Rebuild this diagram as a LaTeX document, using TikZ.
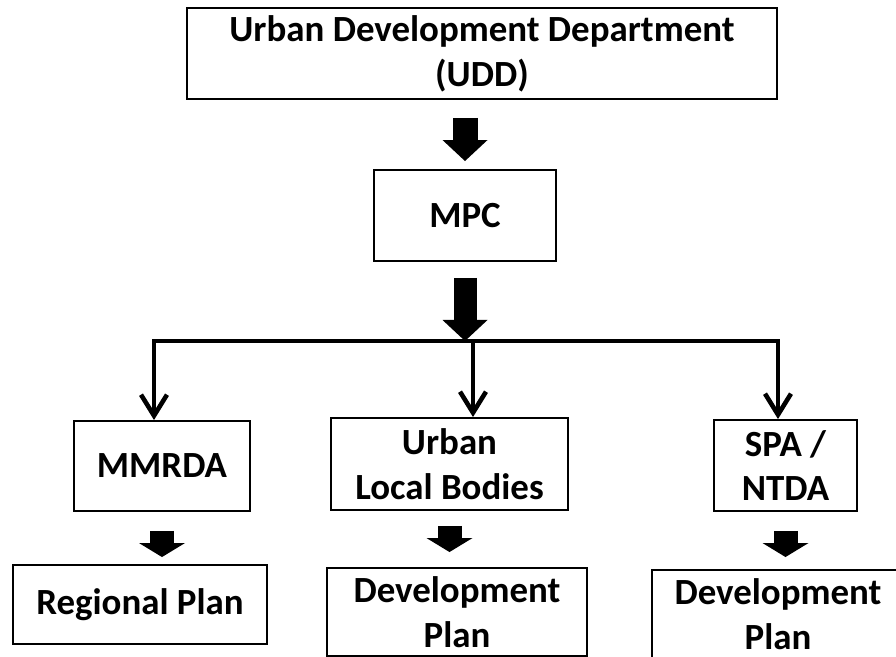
\documentclass[tikz,border=0pt]{standalone}
\usepackage{fontspec}
\setmainfont{Carlito}
\usetikzlibrary{arrows.meta}

\begin{document}
\begin{tikzpicture}[
    box/.style={draw, line width=1.1pt, minimum height=1.82cm, align=center, inner sep=2pt, font=\fontsize{21}{25.5}\selectfont\bfseries},
    fatarrow/.style={line width=0.5cm, -{Triangle[width=0.9cm, length=0.42cm, line width=0pt]}},
    smallfat/.style={line width=0.48cm, -{Triangle[width=0.92cm, length=0.28cm, line width=0pt]}},
    arrow/.style={line width=2.6pt, line join=miter, -{Straight Barb[length=0.42cm, width=0.52cm]}}
]
    \useasboundingbox (0,0) rectangle (17.92,-13.14);

    % Department and committee
    \node[box, minimum width=11.8cm] (udd) at (9.64,-1.07) {Urban Development Department\\(UDD)};
    \node[box, minimum width=3.64cm] (mpc) at (9.30,-4.31) {MPC};

    % Planning authorities
    \node[box, minimum width=3.52cm, minimum height=1.80cm] (mmrda) at (3.24,-9.32) {MMRDA};
    \node[box, minimum width=4.74cm, minimum height=1.84cm] (ulb) at (8.99,-9.28) {Urban\\Local Bodies};
    \node[box, minimum width=2.86cm] (spa) at (15.71,-9.31) {SPA /\\NTDA};

    % Plans
    \node[box, minimum width=5.08cm, minimum height=1.58cm] (rp) at (2.80,-12.09) {Regional Plan};
    \node[box, minimum width=5.2cm, minimum height=1.76cm] (dpm) at (9.14,-12.24) {Development\\Plan};
    \node[box, minimum width=5.04cm, minimum height=1.76cm] (dpr) at (15.56,-12.28) {Development\\Plan};

    % Branch line
    \coordinate (busL) at (3.08,-6.82);
    \coordinate (busM) at (9.46,-6.82);
    \coordinate (busR) at (15.56,-6.82);

    % Arrows
    \draw[fatarrow, shorten <=0.36cm, shorten >=0.16cm] (mpc.north |- udd.south) -- (mpc.north);
    \draw[fatarrow, line width=0.46cm, shorten <=0.32cm] (mpc.south) -- (mpc.south |- busM);
    \draw[arrow] (busM) -| (busL |- mmrda.north);
    \draw[arrow] (busM) -| (busR |- spa.north);
    \draw[arrow] (busM) -- (busM |- ulb.north);
    \draw[smallfat, shorten <=0.38cm, shorten >=0.14cm] (mmrda.south) -- (mmrda.south |- rp.north);
    \draw[smallfat, shorten <=0.30cm, shorten >=0.30cm] (ulb.south) -- (ulb.south |- dpm.north);
    \draw[smallfat, shorten <=0.38cm, shorten >=0.24cm] (spa.south) -- (spa.south |- dpr.north);
\end{tikzpicture}
\end{document}
